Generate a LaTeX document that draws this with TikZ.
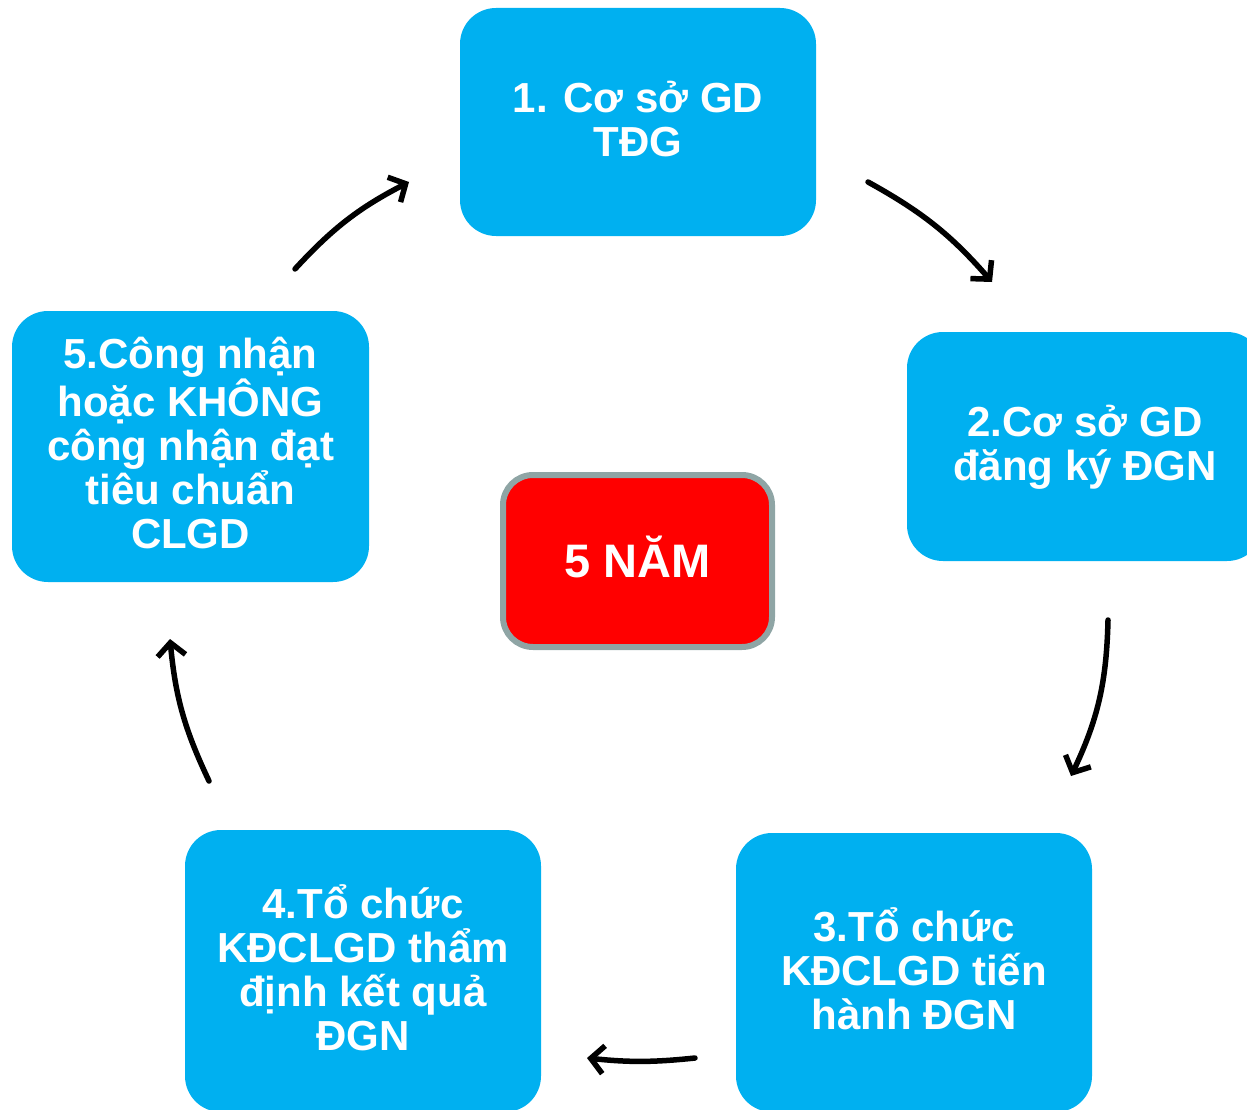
\documentclass[tikz,border=0pt]{standalone}
\usepackage{fontspec}
\setmainfont{Liberation Sans}
\usetikzlibrary{arrows.meta}
\definecolor{boxblue}{HTML}{00B0F0}
\definecolor{bordergray}{HTML}{8FA5A5}
\begin{document}
\begin{tikzpicture}[x=1pt,y=-1pt,
  stepbox/.style={rectangle, rounded corners=36pt, fill=boxblue, draw=none,
    text=white, font=\fontsize{42}{44}\selectfont\bfseries, align=center,
    inner sep=0pt, minimum width=356pt, text depth=7pt},
  cyc/.style={line width=5.5pt, line cap=round, -{Straight Barb[length=13pt,width=28pt,line width=5.5pt]}}]
\useasboundingbox (0,0) rectangle (1247,1110);
\clip (0,0) rectangle (1247,1110);
\node[stepbox, minimum height=228pt] (b1) at (638,122) {1. Cơ sở GD\\TĐG};
\node[stepbox, minimum height=229pt] (b2) at (1085,446.5) {2.Cơ sở GD\\đăng ký ĐGN};
\node[stepbox, minimum height=279pt] (b3) at (914,972.5) {3.Tổ chức\\KĐCLGD tiến\\hành ĐGN};
\node[stepbox, minimum height=282pt] (b4) at (363,971) {4.Tổ chức\\KĐCLGD thẩm\\định kết quả\\ĐGN};
\node[stepbox, minimum width=357pt, minimum height=271pt] (b5) at (190.5,446.5) {5.Công nhận\\hoặc KHÔNG\\công nhận đạt\\tiêu chuẩn\\CLGD};
\node[rectangle, rounded corners=30pt, fill=red, draw=bordergray, line width=6pt,
  minimum width=269pt, minimum height=172pt, inner sep=0pt, text=white, text depth=8pt,
  font=\fontsize{47}{50}\selectfont\bfseries] (c) at (637.5,561) {5 NĂM};
\coordinate (a1s) at (868,182); \coordinate (a1e) at (992,282);
\coordinate (a2s) at (1108,620); \coordinate (a2e) at (1071,776);
\coordinate (a3s) at (695,1058); \coordinate (a3e) at (587,1058);
\coordinate (a4s) at (209,781); \coordinate (a4e) at (170,639);
\coordinate (a5s) at (295,269); \coordinate (a5e) at (409,182);
\draw[cyc] (a1s) to[bend left=10] (a1e);
\draw[cyc] (a2s) to[bend left=12] (a2e);
\draw[cyc] (a3s) to[bend left=6] (a3e);
\draw[cyc] (a4s) to[bend left=10] (a4e);
\draw[cyc] (a5s) to[bend left=10] (a5e);
\end{tikzpicture}
\end{document}
